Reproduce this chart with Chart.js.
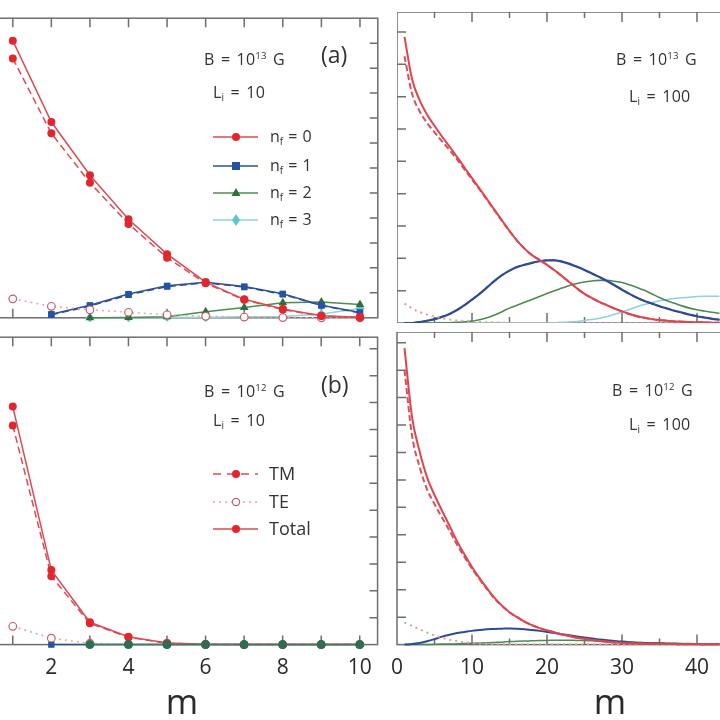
<!DOCTYPE html>
<html>
<head>
<meta charset="utf-8">
<script src="https://cdn.jsdelivr.net/npm/chart.js@4.4.1/dist/chart.umd.min.js"></script>
<style>
html, body { margin: 0; padding: 0; width: 720px; height: 720px; overflow: hidden; background: #fff; }
canvas { position: absolute; }
.t { position: absolute; font-family: 'Open Sans', sans-serif; color: #333; white-space: nowrap; line-height: 1; }
.b { font-size: 16px; letter-spacing: 0.2px; word-spacing: 2px; }
.lg { font-size: 16px; word-spacing: 1px; }
.lg2 { font-size: 18px; }
sup { font-size: 60%; vertical-align: 0.6em; line-height: 0; }
sub { font-size: 62%; vertical-align: -0.3em; line-height: 0; }
svg { position: absolute; }
</style>
</head>
<body>
<canvas id="p1" width="402" height="310" style="left:-19px;top:13px"></canvas>
<canvas id="p2" width="426" height="311" style="left:397px;top:12px"></canvas>
<canvas id="p3" width="402" height="388" style="left:-19px;top:332px"></canvas>
<canvas id="p4" width="443" height="388" style="left:380px;top:332px"></canvas>

<!-- panel (a) -->
<div class="t b" style="left:204px;top:51px">B = 10<sup>13</sup> G</div>
<div class="t" style="left:321px;top:43px;font-size:23px">(a)</div>
<div class="t b" style="left:213px;top:84px">L<sub>i</sub> = 10</div>
<svg style="left:212px;top:129px" width="48" height="16"><line x1="1" y1="8" x2="46" y2="8" stroke="#dd4a53" stroke-width="1.5"/><circle cx="24" cy="8" r="4" fill="#e3262d"/></svg>
<svg style="left:212px;top:158px" width="48" height="16"><line x1="1" y1="8" x2="46" y2="8" stroke="#2f4f9a" stroke-width="1.5"/><rect x="20" y="4" width="8" height="8" fill="#2353a4"/></svg>
<svg style="left:212px;top:185px" width="48" height="16"><line x1="1" y1="8" x2="46" y2="8" stroke="#4f8c52" stroke-width="1.5"/><polygon points="24,3 28.5,11 19.5,11" fill="#2f7039"/></svg>
<svg style="left:212px;top:212px" width="48" height="16"><line x1="1" y1="8" x2="46" y2="8" stroke="#8fd4d6" stroke-width="1.5"/><polygon points="24,2 28,8 24,14 20,8" fill="#5cc6cf"/></svg>
<div class="t lg" style="left:270px;top:128px">n<sub>f</sub> = 0</div>
<div class="t lg" style="left:270px;top:157px">n<sub>f</sub> = 1</div>
<div class="t lg" style="left:270px;top:184px">n<sub>f</sub> = 2</div>
<div class="t lg" style="left:270px;top:211px">n<sub>f</sub> = 3</div>

<!-- top right -->
<div class="t b" style="left:616px;top:51px">B = 10<sup>13</sup> G</div>
<div class="t b" style="left:629px;top:88px">L<sub>i</sub> = 100</div>

<!-- panel (b) -->
<div class="t b" style="left:204px;top:383px">B = 10<sup>12</sup> G</div>
<div class="t" style="left:321px;top:373px;font-size:23px">(b)</div>
<div class="t b" style="left:213px;top:412px">L<sub>i</sub> = 10</div>
<svg style="left:212px;top:466px" width="48" height="16"><line x1="1" y1="8" x2="46" y2="8" stroke="#dd4a53" stroke-width="1.5" stroke-dasharray="8,6"/><circle cx="24" cy="8" r="4" fill="#e3262d"/></svg>
<svg style="left:212px;top:494px" width="48" height="16"><line x1="1" y1="8" x2="46" y2="8" stroke="#e9a2a8" stroke-width="1.5" stroke-dasharray="2,4"/><circle cx="24" cy="8" r="3.6" fill="#fff" stroke="#cc5d66" stroke-width="1.2"/></svg>
<svg style="left:212px;top:521px" width="48" height="16"><line x1="1" y1="8" x2="46" y2="8" stroke="#dd4a53" stroke-width="1.5"/><circle cx="24" cy="8" r="4" fill="#e3262d"/></svg>
<div class="t lg2" style="left:269px;top:464px">TM</div>
<div class="t lg2" style="left:269px;top:492px">TE</div>
<div class="t lg2" style="left:269px;top:519px">Total</div>

<!-- bottom right -->
<div class="t b" style="left:612px;top:382px">B = 10<sup>12</sup> G</div>
<div class="t b" style="left:629px;top:416px">L<sub>i</sub> = 100</div>

<script>
// left panels, m = 1..10
const mLeft = [1, 2, 3, 4, 5, 6, 7, 8, 9, 10];
const aTotal = [11.1, 7.84, 5.71, 3.95, 2.55, 1.43, 0.74, 0.35, 0.08, 0.02];
const aTM = [10.39, 7.39, 5.41, 3.76, 2.41, 1.38, 0.72, 0.33, 0.07, 0.02];
const aTE = [0.76, 0.46, 0.32, 0.22, 0.12, 0.06, 0.03, 0.01, 0.0, 0.0];
const aN1 = [null, 0.14, 0.5, 0.95, 1.28, 1.42, 1.25, 0.96, 0.5, 0.21];
const aN1tm = [null, 0.12, 0.47, 0.92, 1.25, 1.40, 1.23, 0.94, 0.49, 0.2];
const aN2 = [null, null, 0.0, 0.01, 0.04, 0.24, 0.41, 0.6, 0.63, 0.53];
const aN3 = [null, null, 0.0, 0.0, 0.02, 0.01, 0.04, 0.05, 0.15, 0.37];

const bTotal = [8.85, 2.77, 0.83, 0.29, 0.06, 0.01, 0, 0, 0, 0];
const bTM = [8.15, 2.54, 0.79, 0.27, 0.05, 0.01, 0, 0, 0, 0];
const bTE = [0.68, 0.24, 0.05, 0.02, 0.01, 0, 0, 0, 0, 0];
const bN1 = [null, 0, 0, 0, 0, 0, 0, 0, 0, 0];
const bN2 = [null, null, 0, 0, 0, 0, 0, 0, 0, 0];

// right panels, m = 1..43
const mRight = [1, 2, 3, 4, 5, 6, 7, 8, 9, 10, 11, 12, 13, 14, 15, 16, 17, 18, 19, 20, 21, 22,
  23, 24, 25, 26, 27, 28, 29, 30, 31, 32, 33, 34, 35, 36, 37, 38, 39, 40, 41, 42, 43];
const cTotal = [8.85, 7.55, 6.9, 6.45, 6.1, 5.77, 5.46, 5.14, 4.81, 4.48, 4.16, 3.83, 3.5, 3.17, 2.85,
  2.55, 2.3, 2.1, 1.95, 1.8, 1.63, 1.45, 1.26, 1.07, 0.9, 0.77, 0.65, 0.55, 0.45, 0.36, 0.28, 0.21,
  0.16, 0.12, 0.09, 0.07, 0.05, 0.04, 0.03, 0.02, 0.02, 0.01, 0.01];
const cTM = [8.25, 7.1, 6.56, 6.19, 5.9, 5.62, 5.35, 5.06, 4.75, 4.44, 4.13, 3.81, 3.48, 3.16, 2.84,
  2.55, 2.3, 2.1, 1.95, 1.8, 1.63, 1.45, 1.26, 1.07, 0.9, 0.77, 0.65, 0.55, 0.45, 0.36, 0.28, 0.21,
  0.16, 0.12, 0.09, 0.07, 0.05, 0.04, 0.03, 0.02, 0.02, 0.01, 0.01];
const cTE = [0.6, 0.45, 0.34, 0.26, 0.2, 0.15, 0.11, 0.08, 0.06, 0.04, 0.03, 0.02, 0.02, 0.01, 0.01,
  0, 0, 0, 0, 0, 0, 0, 0, 0, 0, 0, 0, 0, 0, 0, 0, 0, 0, 0, 0, 0, 0, 0, 0, 0, 0, 0, 0];
const cN1 = [0, 0, 0.03, 0.07, 0.12, 0.19, 0.28, 0.4, 0.55, 0.72, 0.9, 1.1, 1.3, 1.48, 1.62, 1.73,
  1.8, 1.86, 1.91, 1.94, 1.94, 1.9, 1.83, 1.74, 1.64, 1.53, 1.42, 1.3, 1.17, 1.03, 0.9, 0.78, 0.68,
  0.6, 0.52, 0.45, 0.38, 0.32, 0.26, 0.21, 0.17, 0.13, 0.1];
const cN2 = [0, 0, 0, 0, 0, 0.01, 0.01, 0.02, 0.04, 0.06, 0.1, 0.16, 0.25, 0.35, 0.46, 0.55, 0.64,
  0.73, 0.82, 0.91, 1.0, 1.08, 1.16, 1.22, 1.27, 1.3, 1.32, 1.32, 1.29, 1.25, 1.18, 1.1, 1.01, 0.9,
  0.79, 0.69, 0.61, 0.53, 0.46, 0.41, 0.37, 0.33, 0.3];
const cN3 = [0, 0, 0, 0, 0, 0, 0, 0, 0, 0, 0, 0, 0, 0, 0, 0, 0, 0, 0, 0, 0.01, 0.02, 0.03, 0.05,
  0.08, 0.11, 0.15, 0.2, 0.27, 0.34, 0.42, 0.5, 0.57, 0.63, 0.69, 0.73, 0.76, 0.78, 0.8, 0.82, 0.83,
  0.83, 0.82];

const dTotal = [10.8, 8.3, 7.05, 6.1, 5.45, 4.88, 4.33, 3.77, 3.28, 2.83, 2.42, 2.05, 1.7, 1.42, 1.18,
  1.0, 0.84, 0.71, 0.6, 0.52, 0.44, 0.37, 0.31, 0.25, 0.21, 0.17, 0.13, 0.1, 0.08, 0.06, 0.05, 0.04,
  0.03, 0.03, 0.02, 0.02, 0.02, 0.01, 0.01, 0.01, 0.01, 0.01, 0.01];
const dTM = [10.0, 7.62, 6.49, 5.66, 5.12, 4.63, 4.15, 3.64, 3.19, 2.77, 2.38, 2.02, 1.68, 1.41, 1.17,
  1.0, 0.84, 0.71, 0.6, 0.52, 0.44, 0.37, 0.31, 0.25, 0.21, 0.17, 0.13, 0.1, 0.08, 0.06, 0.05, 0.04,
  0.03, 0.03, 0.02, 0.02, 0.02, 0.01, 0.01, 0.01, 0.01, 0.01, 0.01];
const dTE = [0.8, 0.68, 0.56, 0.44, 0.33, 0.25, 0.18, 0.13, 0.09, 0.06, 0.04, 0.03, 0.02, 0.01, 0.01,
  0, 0, 0, 0, 0, 0, 0, 0, 0, 0, 0, 0, 0, 0, 0, 0, 0, 0, 0, 0, 0, 0, 0, 0, 0, 0, 0, 0];
const dN1 = [0, 0.02, 0.06, 0.12, 0.2, 0.29, 0.36, 0.42, 0.46, 0.5, 0.53, 0.56, 0.57, 0.58, 0.59,
  0.58, 0.56, 0.53, 0.5, 0.46, 0.42, 0.38, 0.34, 0.3, 0.26, 0.22, 0.19, 0.16, 0.13, 0.11, 0.09, 0.07,
  0.06, 0.05, 0.04, 0.03, 0.03, 0.02, 0.02, 0.02, 0.01, 0.01, 0.01];
const dN2 = [0, 0, 0, 0, 0.01, 0.02, 0.02, 0.03, 0.04, 0.05, 0.06, 0.07, 0.08, 0.09, 0.11, 0.12, 0.13,
  0.14, 0.15, 0.15, 0.16, 0.16, 0.16, 0.15, 0.15, 0.14, 0.13, 0.12, 0.11, 0.1, 0.09, 0.08, 0.07, 0.06,
  0.06, 0.05, 0.05, 0.04, 0.04, 0.03, 0.03, 0.03, 0.03];

// tick marks and tick labels
const xTicksLeft = [1, 2, 3, 4, 5, 6, 7, 8, 9, 10];
const xLabelsLeft = [2, 4, 6, 8, 10];
const xTicksRight = [5, 10, 15, 20, 25, 30, 35, 40, 45, 50, 55];
const xLabelsRight = [0, 10, 20, 30, 40, 50];
const yTicks9 = [1, 2, 3, 4, 5, 6, 7, 8, 9];
const yTicks11 = [1, 2, 3, 4, 5, 6, 7, 8, 9, 10, 11];

function pts(xs, ys) {
    return xs.map(function (x, i) { return { x: x, y: ys[i] }; });
}

const framePlugin = {
    id: 'frame',
    beforeDatasetsDraw(chart, args, o) {
        const ctx = chart.ctx, a = chart.chartArea, x = chart.scales.x, y = chart.scales.y;
        ctx.save();
        ctx.strokeStyle = '#6e6e6e';
        ctx.lineWidth = 1.5;
        ctx.strokeRect(a.left, a.top, a.right - a.left, a.bottom - a.top);
        ctx.beginPath();
        o.xTicks.forEach(function (v) {
            const px = x.getPixelForValue(v);
            const len = (o.xMajor && v % o.xMajor === 0) ? 10 : o.xLen;
            ctx.moveTo(px, a.top); ctx.lineTo(px, a.top + len);
            ctx.moveTo(px, a.bottom); ctx.lineTo(px, a.bottom - len);
        });
        o.yTicks.forEach(function (v) {
            const py = y.getPixelForValue(v);
            if (o.ySide === 'right') { ctx.moveTo(a.right, py); ctx.lineTo(a.right - o.yLen, py); }
            else { ctx.moveTo(a.left, py); ctx.lineTo(a.left + o.yLen, py); }
        });
        ctx.stroke();
        ctx.restore();
    }
};

function xAxis(min, max, labels, show) {
    return {
        type: 'linear', min: min, max: max,
        display: show,
        grid: { display: false, drawTicks: false },
        border: { display: false },
        afterBuildTicks: function (s) { s.ticks = labels.map(function (v) { return { value: v }; }); },
        ticks: { maxRotation: 0, padding: 11, color: '#2a2a2a', font: { family: 'Open Sans', size: 21 } },
        title: { display: show, text: 'm', color: '#2a2a2a', padding: { top: 0, bottom: 3 },
                 font: { family: 'Open Sans', size: 35, lineHeight: 0.72 } }
    };
}

function makeChart(id, datasets, xs, yMax, frame, padLeft) {
    new Chart(document.getElementById(id), {
        type: 'line',
        data: { datasets: datasets },
        options: {
            responsive: false,
            animation: false,
            layout: { padding: { left: padLeft || 0, right: 0, top: 0, bottom: 0 } },
            scales: {
                x: xs,
                y: { type: 'linear', min: 0, max: yMax, display: false }
            },
            plugins: { legend: { display: false }, tooltip: { enabled: false }, frame: frame }
        },
        plugins: [framePlugin]
    });
}

function markLine(data, color, mColor, style, r, dash) {
    return {
        data: data, borderColor: color, borderWidth: 1.5, borderDash: dash || [],
        pointStyle: style, pointRadius: r, pointBackgroundColor: mColor, pointBorderColor: mColor,
        pointBorderWidth: 0, clip: false, tension: 0
    };
}

function openLine(data) {
    return {
        data: data, borderColor: '#e9a2a8', borderWidth: 1.5, borderDash: [2, 4],
        pointStyle: 'circle', pointRadius: 3.8, pointBackgroundColor: '#fff', pointBorderColor: '#cc5d66',
        pointBorderWidth: 1.2, clip: false, tension: 0
    };
}

function curve(data, color, width, dash) {
    return {
        data: data, borderColor: color, borderWidth: width, borderDash: dash || [],
        pointRadius: 0, clip: false, cubicInterpolationMode: 'monotone'
    };
}

// (a) B = 1e13, L = 10
makeChart('p1', [
    markLine(pts(mLeft, aTotal), '#dd4a53', '#e3262d', 'circle', 4),
    markLine(pts(mLeft, aTM), '#dd4a53', '#e3262d', 'circle', 4, [7, 4]),
    openLine(pts(mLeft, aTE)),
    markLine(pts(mLeft, aN1), '#2f4f9a', '#2353a4', 'rect', 4.5),
    markLine(pts(mLeft, aN1tm), '#2f4f9a', '#2353a4', 'rect', 4.5, [7, 4]),
    markLine(pts(mLeft, aN2), '#4f8c52', '#2f7039', 'triangle', 5),
    markLine(pts(mLeft, aN3), '#8fd4d6', '#5cc6cf', 'rectRot', 4.5)
], xAxis(0.311, 10.462, xLabelsLeft, false), 12.0,
   { xTicks: xTicksLeft, xLen: 9, yTicks: yTicks11, yLen: 8, ySide: 'right' });

// B = 1e13, L = 100
makeChart('p2', [
    curve(pts(mRight, cTotal), '#e0444d', 2),
    curve(pts(mRight, cTM), '#d8505a', 2, [6, 3]),
    curve(pts(mRight, cTE), '#e39aa0', 2, [2, 4]),
    curve(pts(mRight, cN1), '#2f4b96', 2.2),
    curve(pts(mRight, cN1), '#243f85', 1.5, [6, 3]),
    curve(pts(mRight, cN2), '#4d8a50', 1.6),
    curve(pts(mRight, cN3), '#8dd3d8', 1.5)
], xAxis(0, 56.8, xLabelsRight, false), 9.62,
   { xTicks: xTicksRight, xLen: 6, xMajor: 10, yTicks: yTicks9, yLen: 9, ySide: 'left' });

// (b) B = 1e12, L = 10
makeChart('p3', [
    markLine(pts(mLeft, bN2), '#3f8060', '#2c6f52', 'circle', 4.5),
    markLine(pts(mLeft, bTotal), '#dd4a53', '#e3262d', 'circle', 4),
    markLine(pts(mLeft, bTM), '#dd4a53', '#e3262d', 'circle', 4, [7, 4]),
    openLine(pts(mLeft, bTE)),
    markLine(pts(mLeft, bN1), '#2f4f9a', '#2353a4', 'rect', 4.5)
], xAxis(0.311, 10.462, xLabelsLeft, true), 11.43,
   { xTicks: xTicksLeft, xLen: 9, yTicks: yTicks11, yLen: 8, ySide: 'right' });

// B = 1e12, L = 100
makeChart('p4', [
    curve(pts(mRight, dTotal), '#e0444d', 2),
    curve(pts(mRight, dTM), '#d8505a', 2, [6, 3]),
    curve(pts(mRight, dTE), '#e39aa0', 2, [2, 4]),
    curve(pts(mRight, dN1), '#2f4b96', 2),
    curve(pts(mRight, dN2), '#4d8a50', 1.5)
], xAxis(0, 56.8, xLabelsRight, true), 11.39,
   { xTicks: xTicksRight, xLen: 6, xMajor: 10, yTicks: yTicks11, yLen: 9, ySide: 'left' }, 17);
</script>
</body>
</html>
